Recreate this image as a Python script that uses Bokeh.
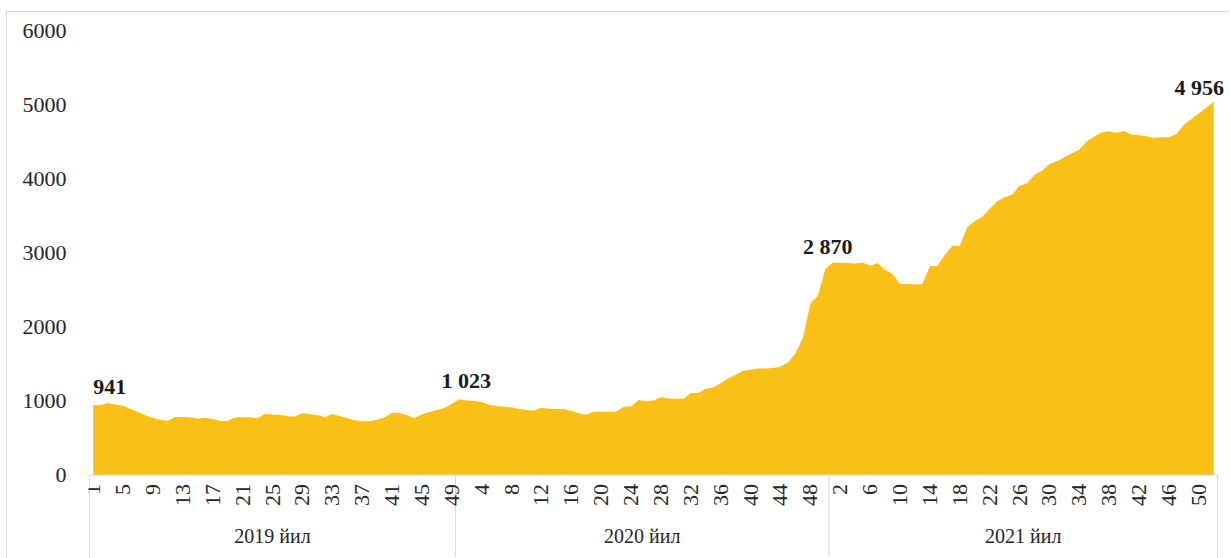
import math
from bokeh.plotting import figure
from bokeh.models import FixedTicker, Label, Range1d
from bokeh.core.properties import value
from bokeh.embed import file_html
from bokeh.resources import INLINE

# ---------------- data ----------------
years = ["2019 йил", "2020 йил", "2021 йил"]

values_2019 = [941, 945, 971, 949, 935, 890, 850, 805, 769, 747, 733, 783, 783, 779, 760,
               774, 756, 729, 729, 778, 778, 778, 765, 828, 814, 814, 792, 788, 832, 823,
               810, 778, 823, 796, 769, 738, 724, 724, 747, 778, 841, 837, 805, 769, 819,
               850, 877, 904, 962]
values_2020 = [1023, 1007, 998, 985, 949, 931, 922, 913, 890, 877, 872, 908, 895, 890, 890,
               868, 832, 814, 854, 854, 854, 854, 922, 926, 1012, 994, 1007, 1052, 1034, 1030,
               1030, 1106, 1106, 1165, 1182, 1241, 1304, 1353, 1407, 1421, 1439, 1439, 1443,
               1461, 1519, 1645, 1848, 2310, 2418, 2781]
values_2021 = [2870, 2866, 2862, 2855, 2868, 2826, 2860, 2768, 2714, 2579, 2579, 2570, 2579,
               2822, 2822, 2970, 3096, 3096, 3343, 3424, 3487, 3591, 3694, 3748, 3784, 3905,
               3937, 4054, 4108, 4198, 4234, 4288, 4342, 4391, 4504, 4567, 4625, 4639, 4621,
               4643, 4594, 4585, 4571, 4549, 4558, 4558, 4603, 4729, 4805, 4882, 4956, 5039]

y_ticks = [0, 1000, 2000, 3000, 4000, 5000, 6000]
y_tick_labels = ["0", "1000", "2000", "3000", "4000", "5000", "6000"]

# labelled points: (year, week)
labelled = [("2019 йил", 1), ("2020 йил", 1), ("2021 йил", 1), ("2021 йил", 51)]

# ---------------- derived ----------------
series = [values_2019, values_2020, values_2021]
y = []
week_of = []
year_start = {}
year_bounds = []
for name, vals in zip(years, series):
    year_start[name] = len(y)
    year_bounds.append(len(y) - 0.5)
    for w, v in enumerate(vals, start=1):
        y.append(v)
        week_of.append(str(w))
year_bounds.append(len(y) - 0.5)
n = len(y)
x = list(range(n))

tick_idx = list(range(0, n, 4))
tick_text = [week_of[i] for i in tick_idx]
group_centers = [(year_bounds[k] + year_bounds[k + 1]) / 2 for k in range(len(years))]

# ---------------- layout (pixels) ----------------
W, H = 1223, 546           # canvas size (plus 7px/12px offset & border)
FRAME_L, FRAME_T = 81, 18  # frame offsets inside canvas
BOX_PX = 1128.0            # pixel width of the category box (n categories)
PLOT_PX = 444.5            # pixel height of 0..6000
Y_MAX = 6000
ppu_x = BOX_PX / n
ppu_y = PLOT_PX / Y_MAX
x_start = -0.5 - 1.0 / ppu_x
x_end = x_start + (W - FRAME_L) / ppu_x
y_start = -(H - FRAME_T - PLOT_PX) / ppu_y

FONT = "Liberation Serif"
TXT = "#262626"
GRAY = "#d9d9d9"
FILL = "#FBC015"

p = figure(width=W, height=H,
           x_range=Range1d(x_start, x_end), y_range=Range1d(y_start, Y_MAX),
           output_backend="svg", toolbar_location=None,
           x_axis_location=None,
           min_border_left=FRAME_L, min_border_right=0, min_border_top=FRAME_T,
           min_border_bottom=0)
p.styles = {"margin-left": "6px", "margin-top": "11px",
            "border-top": "1px solid #d9d9d9", "border-left": "1px solid #d9d9d9"}
p.outline_line_color = None
p.xgrid.grid_line_color = None
p.ygrid.grid_line_color = None
p.background_fill_color = "white"
p.border_fill_color = "white"

p.varea(x=x, y1=[0] * n, y2=y, fill_color=FILL, fill_alpha=1.0)

# category box: top line and year separators
p.segment(x0=[year_bounds[0]], y0=[0], x1=[year_bounds[-1]], y1=[0],
          line_color=GRAY, line_width=1)
p.segment(x0=year_bounds, y0=[0] * len(year_bounds), x1=year_bounds,
          y1=[y_start] * len(year_bounds), line_color=GRAY, line_width=1)

# week labels (vertical)
p.text(x=tick_idx, y=[0] * len(tick_idx), text=tick_text, angle=math.pi / 2,
       text_align="right", text_baseline="middle", y_offset=9,
       text_font=value(FONT), text_font_size="22px", text_color=TXT)

# year labels
p.text(x=group_centers, y=[0] * len(group_centers), text=years,
       text_align="center", text_baseline="middle", y_offset=61,
       text_font=value(FONT), text_font_size="20px", text_color=TXT)

# y axis
ya = p.yaxis[0]
ya.ticker = FixedTicker(ticks=y_ticks)
ya.major_label_overrides = {t: l for t, l in zip(y_ticks, y_tick_labels)}
ya.axis_line_color = None
ya.major_tick_line_color = None
ya.minor_tick_line_color = None
ya.major_label_standoff = 16
ya.major_label_text_font = FONT
ya.major_label_text_font_size = "22px"
ya.major_label_text_color = TXT

# data labels
label_style = [("left", 0, 18), ("center", 7, 19), ("center", -5, 16), ("center", -7, 20)]
for (yr, wk), (al, dx, dy) in zip(labelled, label_style):
    i = year_start[yr] + wk - 1
    txt = f"{y[i]:,}".replace(",", " ")
    p.add_layout(Label(x=i, y=y[i], text=txt, text_align=al, text_baseline="alphabetic",
                       x_offset=dx, y_offset=dy, text_font=FONT, text_font_size="22px",
                       text_font_style="bold", text_color="#1a1a1a"))

open("out.html", "w").write(file_html(p, INLINE))
